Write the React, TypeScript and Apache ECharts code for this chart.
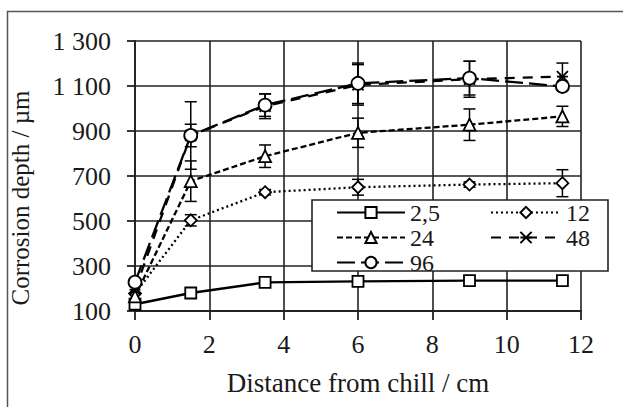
import React, { useEffect, useRef } from "react";
import * as echarts from "echarts";

const xs = [0, 1.5, 3.5, 6, 9, 11.5];
const seriesNames = ["2,5", "12", "24", "48", "96"];
const s25 = [130, 180, 227, 232, 235, 235];
const s12 = [178, 503, 628, 650, 662, 668];
const s24 = [165, 677, 788, 892, 928, 965];
const s48 = [195, 880, 1010, 1105, 1130, 1142];
const s96 = [228, 880, 1015, 1112, 1135, 1098];
const e25 = [0, 0, 0, 0, 0, 0];
const e12 = [0, 25, 12, 35, 12, 60];
const e24 = [0, 90, 50, 65, 70, 45];
const e48 = [0, 50, 55, 90, 80, 60];
const e96 = [0, 150, 50, 90, 75, 10];
const xTicks = [0, 2, 4, 6, 8, 10, 12];
const yTicks = [100, 300, 500, 700, 900, 1100, 1300];

const FONT = "'Liberation Serif', 'Times New Roman', serif";
const INK = "#1a1a1a";

export default function App() {
  const ref = useRef<HTMLDivElement>(null);
  useEffect(() => {
    const chart = echarts.init(ref.current!, null, { renderer: "svg" });
    const vals = [s25, s12, s24, s48, s96];
    const errs = [e25, e12, e24, e48, e96];
    const symbols = [
      "rect",
      "diamond",
      "triangle",
      "path://M0 0L10 10M10 0L0 10M0 5L10 5",
      "circle",
    ];
    const sizes = [11, 12, 12, 11, 13];
    const dashes: any[] = ["solid", [2, 3], [6, 3], [10, 8], [18, 6]];

    const lineSeries = seriesNames.map((name, i) => ({
      name,
      type: "line",
      data: xs.map((x, j) => [x, vals[i][j]]),
      symbol: symbols[i],
      symbolSize: sizes[i],
      showSymbol: true,
      z: 5,
      lineStyle: { color: "#000", width: 2.3, type: dashes[i] },
      itemStyle: { color: "#fff", borderColor: "#000", borderWidth: 1.8 },
    }));

    const errSeries = seriesNames.map((name, i) => ({
      name: name + " err",
      type: "custom",
      z: 4,
      data: xs
        .map((x, j) => [x, vals[i][j] - errs[i][j], vals[i][j] + errs[i][j]])
        .filter((d) => d[2] - d[1] > 0),
      renderItem: (params: any, api: any) => {
        const x = api.value(0);
        const lo = api.coord([x, api.value(1)]);
        const hi = api.coord([x, api.value(2)]);
        const hw = 6;
        const st = { stroke: "#000", lineWidth: 1.5 };
        return {
          type: "group",
          children: [
            { type: "line", shape: { x1: lo[0], y1: lo[1], x2: hi[0], y2: hi[1] }, style: st },
            { type: "line", shape: { x1: lo[0] - hw, y1: lo[1], x2: lo[0] + hw, y2: lo[1] }, style: st },
            { type: "line", shape: { x1: hi[0] - hw, y1: hi[1], x2: hi[0] + hw, y2: hi[1] }, style: st },
          ],
        };
      },
    }));

    const legendBase = {
      orient: "vertical",
      top: 200,
      padding: 0,
      itemHeight: 14,
      itemGap: 0,
      z: 10,
      textStyle: { fontFamily: FONT, fontSize: 24, color: INK, lineHeight: 25 },
    };

    chart.setOption({
      animation: false,
      backgroundColor: "#fff",
      grid: { left: 135, right: 42, top: 41, bottom: 96, containLabel: false },
      xAxis: {
        type: "value",
        min: xTicks[0],
        max: xTicks[xTicks.length - 1],
        interval: 2,
        name: "Distance from chill / cm",
        nameLocation: "middle",
        nameGap: 58,
        nameTextStyle: { fontFamily: FONT, fontSize: 27, color: INK },
        axisLine: { show: true, lineStyle: { color: "#222", width: 1.8 } },
        axisTick: { show: true, length: 9, lineStyle: { color: "#222", width: 1.8 } },
        axisLabel: { margin: 20, fontFamily: FONT, fontSize: 26, color: INK },
        splitLine: { show: true, lineStyle: { color: "#222", width: 1.6 } },
      },
      yAxis: {
        type: "value",
        min: yTicks[0],
        max: yTicks[yTicks.length - 1],
        interval: 200,
        axisLine: { show: true, lineStyle: { color: "#222", width: 1.8 } },
        axisTick: { show: true, length: 8, lineStyle: { color: "#222", width: 1.8 } },
        axisLabel: {
          margin: 24,
          fontFamily: FONT,
          fontSize: 26,
          color: INK,
          formatter: (v: number) =>
            v >= 1000 ? Math.floor(v / 1000) + " " + String(v % 1000).padStart(3, "0") : String(v),
        },
        splitLine: { show: true, lineStyle: { color: "#222", width: 1.6 } },
      },
      legend: [
        { ...legendBase, left: 336, itemWidth: 68, data: ["2,5", "24", "96"] },
        { ...legendBase, left: 490, itemWidth: 70, data: ["12", "48"] },
      ],
      graphic: [
        {
          type: "rect",
          z: -1,
          silent: true,
          shape: { x: 7.5, y: 11.5, width: 700, height: 500 },
          style: { fill: "none", stroke: "#555", lineWidth: 1.5 },
        },
        {
          type: "rect",
          z: 8,
          silent: true,
          shape: { x: 312, y: 200, width: 296, height: 71 },
          style: { fill: "#fff", stroke: "#222", lineWidth: 1.6 },
        },
        {
          type: "text",
          x: 20,
          y: 198,
          rotation: Math.PI / 2,
          silent: true,
          style: {
            text: "Corrosion depth / µm",
            fontFamily: FONT,
            fontSize: 25,
            fill: INK,
            textAlign: "center",
            textVerticalAlign: "middle",
          },
        },
      ],
      series: [...errSeries, ...lineSeries],
    });
    return () => chart.dispose();
  }, []);
  return <div ref={ref} style={{ width: 623, height: 407, position: "absolute", left: 0, top: 0 }} />;
}
